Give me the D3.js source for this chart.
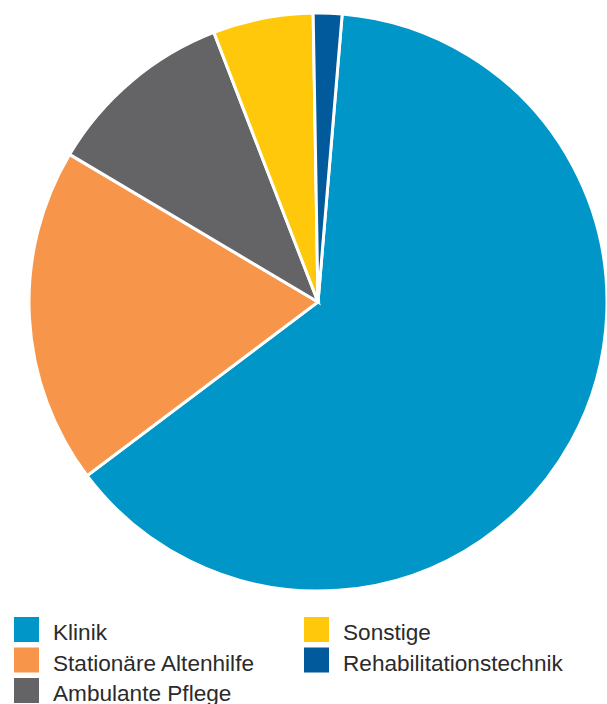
<!DOCTYPE html>
<html>
<head>
<meta charset="utf-8">
<script src="https://cdn.jsdelivr.net/npm/d3@7"></script>
<style>
  body { margin: 0; background: #fff; }
  svg { display: block; }
</style>
</head>
<body>
<div class="chart"></div>
<script>
const svgWidth = 607
const svgHeight = 704

// shares in percent
const categories = ["Klinik", "Stationäre Altenhilfe", "Ambulante Pflege", "Sonstige", "Rehabilitationstechnik"]
const values = [63.4, 18.8, 10.6, 5.6, 1.6]
const colors = ["#0096c8", "#f7964a", "#646466", "#ffc80a", "#005a9b"]

// legend layout: which column / row each category sits in
const legendCol = [0, 0, 0, 1, 1]
const legendRow = [0, 1, 2, 0, 1]

let data = categories.map((c, i) => ({ name: c, value: values[i] }))

let svg = d3
  .select(".chart")
  .append("svg")
  .attr("width", svgWidth)
  .attr("height", svgHeight)

let cx = 318
let cy = 302
let radius = 289

let color = d3.scaleOrdinal().domain(categories).range(colors)

let startOffset = 4.8 * Math.PI / 180

let pie = d3
  .pie()
  .sort(null)
  .value(d => d.value)
  .startAngle(startOffset)
  .endAngle(startOffset + 2 * Math.PI)

let arc = d3.arc().innerRadius(0).outerRadius(radius)

let pieGroup = svg
  .append("g")
  .attr("transform", `translate(${cx}, ${cy})`)

pieGroup
  .selectAll("path")
  .data(pie(data))
  .enter()
  .append("path")
  .attr("d", arc)
  .attr("fill", d => color(d.data.name))
  .attr("stroke", "#fff")
  .attr("stroke-width", 3)
  .attr("stroke-linejoin", "miter")

// legend
let legend = svg.append("g")

let items = legend
  .selectAll("g")
  .data(data)
  .enter()
  .append("g")
  .attr("transform", (d, i) => `translate(${14 + legendCol[i] * 290}, ${617 + legendRow[i] * 30.5})`)

items
  .append("rect")
  .attr("width", 25)
  .attr("height", 25)
  .attr("fill", d => color(d.name))

items
  .append("text")
  .attr("x", 39)
  .attr("y", 23)
  .attr("font-family", "Liberation Sans, Arial, sans-serif")
  .attr("font-size", "22.6px")
  .attr("fill", "#2b2b2b")
  .text(d => d.name)
</script>
</body>
</html>
